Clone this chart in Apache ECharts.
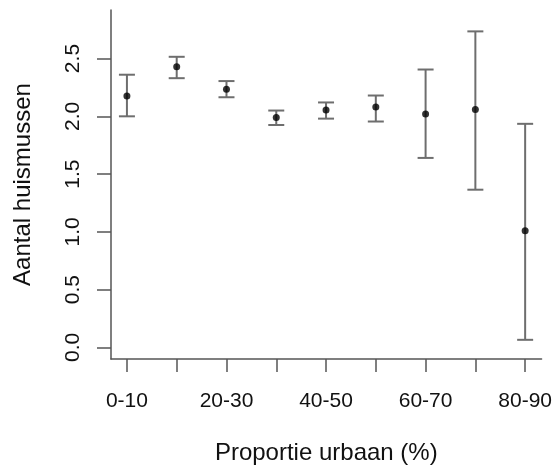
<!DOCTYPE html>
<html>
<head>
<meta charset="utf-8">
<script src="https://cdn.jsdelivr.net/npm/echarts@6/dist/echarts.min.js"></script>
<style>
html,body{margin:0;padding:0;background:#fff;}
#chart{width:555px;height:470px;}
</style>
</head>
<body>
<div id="chart"></div>
<script>
const categories = ['0-10','10-20','20-30','30-40','40-50','50-60','60-70','70-80','80-90'];
const means = [2.175, 2.43, 2.235, 1.99, 2.055, 2.08, 2.02, 2.06, 1.01];
const lower = [2.0, 2.33, 2.165, 1.925, 1.98, 1.955, 1.64, 1.365, 0.066];
const upper = [2.36, 2.515, 2.305, 2.05, 2.12, 2.18, 2.405, 2.735, 1.935];
const yTicks = [0, 0.5, 1.0, 1.5, 2.0, 2.5];
const xLabelPositions = [1, 3, 5, 7, 9];

const positions = categories.map((c, i) => i + 1);
const errData = positions.map((p, i) => [p, lower[i], upper[i]]);
const meanData = positions.map((p, i) => [p, means[i]]);

const font = 'Liberation Sans, Arial, sans-serif';
const axisColor = '#555';
const textColor = '#111';

const chart = echarts.init(document.getElementById('chart'));
chart.setOption({
  animation: false,
  backgroundColor: '#fff',
  grid: {left: 111, top: 10, right: 13, bottom: 108},
  xAxis: {
    type: 'value',
    min: 0.68,
    max: 9.33,
    name: 'Proportie urbaan (%)',
    nameLocation: 'middle',
    nameGap: 82,
    nameTextStyle: {fontFamily: font, fontSize: 24, color: textColor},
    splitLine: {show: false},
    axisLine: {show: true, onZero: false, lineStyle: {color: axisColor, width: 1.5}},
    axisTick: {show: true, customValues: positions, length: 13, lineStyle: {color: axisColor, width: 1.5}},
    axisLabel: {
      customValues: xLabelPositions,
      margin: 32,
      fontFamily: font, fontSize: 21, color: textColor,
      formatter: v => categories[Math.round(v) - 1]
    }
  },
  yAxis: {
    type: 'value',
    min: -0.1,
    max: 2.92,
    name: 'Aantal huismussen',
    nameLocation: 'middle',
    nameRotate: 90,
    nameGap: 76,
    nameTextStyle: {fontFamily: font, fontSize: 24, color: textColor},
    splitLine: {show: false},
    axisLine: {show: true, lineStyle: {color: axisColor, width: 1.5}},
    axisTick: {show: true, customValues: yTicks, length: 14, lineStyle: {color: axisColor, width: 1.5}},
    axisLabel: {
      customValues: yTicks,
      rotate: 90,
      margin: 27,
      fontFamily: font, fontSize: 21, color: textColor,
      formatter: v => v.toFixed(1)
    }
  },
  series: [
    {
      type: 'custom',
      data: errData,
      encode: {x: 0, y: [1, 2]},
      renderItem: function (params, api) {
        const x = api.value(0);
        const lo = api.coord([x, api.value(1)]);
        const hi = api.coord([x, api.value(2)]);
        const hw = 8;
        const style = {stroke: '#6e6e6e', lineWidth: 2};
        return {
          type: 'group',
          children: [
            {type: 'line', shape: {x1: lo[0], y1: lo[1], x2: hi[0], y2: hi[1]}, style: style},
            {type: 'line', shape: {x1: lo[0] - hw, y1: lo[1], x2: lo[0] + hw, y2: lo[1]}, style: style},
            {type: 'line', shape: {x1: hi[0] - hw, y1: hi[1], x2: hi[0] + hw, y2: hi[1]}, style: style}
          ]
        };
      },
      z: 2
    },
    {
      type: 'scatter',
      data: meanData,
      symbol: 'circle',
      symbolSize: 7,
      itemStyle: {color: '#000'},
      z: 3
    }
  ]
});
</script>
</body>
</html>
